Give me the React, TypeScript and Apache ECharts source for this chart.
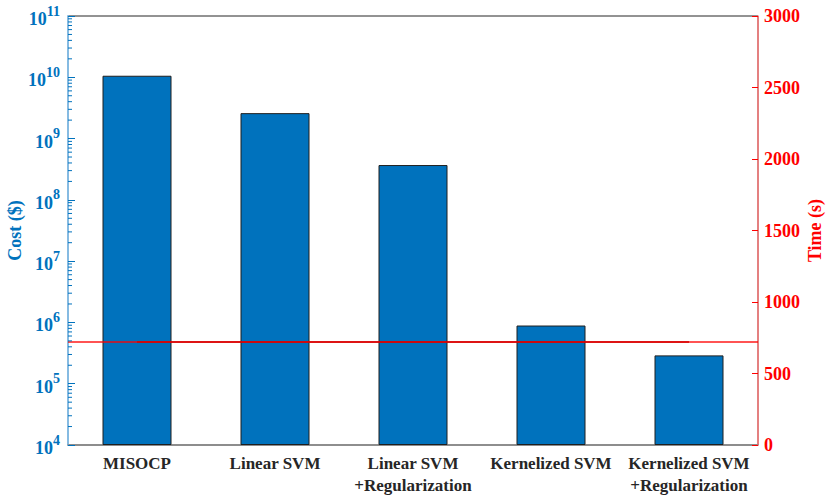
import React, { useEffect, useRef } from "react";
import * as echarts from "echarts";

const categories = [
  "MISOCP",
  "Linear SVM",
  "Linear SVM\n+Regularization",
  "Kernelized SVM",
  "Kernelized SVM\n+Regularization",
];
const costValues = [1.06e10, 2.6e9, 3.7e8, 8.9e5, 2.9e5];
const timeValues = [721, 721, 721, 721, 721];
const timeReference = 721;
const costTickExponents = [4, 5, 6, 7, 8, 9, 10, 11];
const timeTicks = [0, 500, 1000, 1500, 2000, 2500, 3000];

const FONT = "'Liberation Serif', 'Times New Roman', serif";
const BLUE = "#0072BD";
const RED = "#FF0000";

const W = 831;
const H = 497;
const GRID = { left: 68, right: 73, top: 16, bottom: 52 };

// minor tick values of the log axis (2..9 x 10^e)
const minorTickValues: number[] = [];
for (let i = 0; i < costTickExponents.length - 1; i++) {
  for (let k = 2; k <= 9; k++) {
    minorTickValues.push(k * Math.pow(10, costTickExponents[i]));
  }
}

export default function App() {
  const ref = useRef<HTMLDivElement>(null);
  useEffect(() => {
    if (!ref.current) return;
    const chart = echarts.init(ref.current, undefined, { renderer: "svg" });
    chart.setOption({
      animation: false,
      backgroundColor: "#ffffff",
      grid: {
        ...GRID,
        containLabel: false,
        outerBoundsMode: "none",
        show: true,
        borderColor: "#262626",
        borderWidth: 1,
        backgroundColor: "transparent",
      },
      xAxis: {
        type: "category",
        data: categories,
        axisLine: { lineStyle: { color: "#8c8c8c", width: 1.5 } },
        axisTick: {
          inside: true,
          alignWithLabel: true,
          length: 6,
          lineStyle: { color: "#262626", width: 1 },
        },
        axisLabel: {
          fontFamily: FONT,
          fontWeight: "bold",
          fontSize: 17,
          color: "#262626",
          margin: 7,
          lineHeight: 22,
          interval: 0,
        },
        splitLine: { show: false },
      },
      yAxis: [
        {
          type: "log",
          logBase: 10,
          min: Math.pow(10, costTickExponents[0]),
          max: Math.pow(10, costTickExponents[costTickExponents.length - 1]),
          splitNumber: costTickExponents.length - 1,
          startValue: Math.pow(10, costTickExponents[0]),
          position: "left",
          name: "Cost ($)",
          nameLocation: "middle",
          nameRotate: 90,
          nameGap: 44,
          nameMoveOverlap: false,
          nameTextStyle: {
            fontFamily: FONT,
            fontWeight: "bold",
            fontSize: 18,
            color: BLUE,
          },
          axisLine: { show: true, lineStyle: { color: "#86bbe2", width: 2 } },
          axisTick: {
            show: true,
            inside: true,
            length: 7,
            lineStyle: { color: BLUE, width: 1 },
          },
          axisLabel: {
            margin: 8,
            formatter: (v: number) => "{b|10}{s|" + Math.round(Math.log10(v)) + "}",
            rich: {
              b: {
                fontFamily: FONT,
                fontWeight: "bold",
                fontSize: 18,
                color: BLUE,
                lineHeight: 24,
                verticalAlign: "bottom",
              },
              s: {
                fontFamily: FONT,
                fontWeight: "bold",
                fontSize: 14,
                color: BLUE,
                lineHeight: 24,
                verticalAlign: "top",
                padding: [0, 0, 13, 0],
              },
            },
          },
          splitLine: { show: false },
        },
        {
          type: "value",
          min: timeTicks[0],
          max: timeTicks[timeTicks.length - 1],
          interval: timeTicks[1] - timeTicks[0],
          position: "right",
          name: "Time (s)",
          nameLocation: "middle",
          nameRotate: 90,
          nameGap: 48,
          nameMoveOverlap: false,
          nameTextStyle: {
            fontFamily: FONT,
            fontWeight: "bold",
            fontSize: 18,
            color: RED,
          },
          axisLine: { show: true, lineStyle: { color: "#ff7a7a", width: 1.5 } },
          axisTick: {
            show: true,
            inside: true,
            length: 6,
            lineStyle: { color: RED, width: 1 },
          },
          axisLabel: {
            margin: 6,
            fontFamily: FONT,
            fontWeight: "bold",
            fontSize: 18,
            color: RED,
            formatter: (v: number) => String(v),
          },
          splitLine: { show: false },
        },
      ],
      series: [
        {
          type: "bar",
          data: costValues,
          yAxisIndex: 0,
          barWidth: "50%",
          itemStyle: { color: BLUE, borderColor: "#1f1f1f", borderWidth: 1 },
          clip: true,
          z: 2,
        },
        {
          type: "line",
          data: timeValues,
          yAxisIndex: 1,
          symbol: "none",
          lineStyle: { color: "#d40000", width: 1.5 },
          z: 5,
        },
      ],
    });

    const x0 = GRID.left;
    const x1 = W - GRID.right;
    const graphics: any[] = [];
    minorTickValues.forEach((v) => {
      const y = chart.convertToPixel({ yAxisIndex: 0 }, v) as number;
      graphics.push({
        type: "line",
        silent: true,
        z: 10,
        shape: { x1: x0, y1: y, x2: x0 + 4, y2: y },
        style: { stroke: BLUE, lineWidth: 1 },
      });
    });
    const yRef = chart.convertToPixel({ yAxisIndex: 1 }, timeReference) as number;
    graphics.push({
      type: "line",
      silent: true,
      z: 4,
      shape: { x1: x0, y1: yRef, x2: x1, y2: yRef },
      style: { stroke: RED, lineWidth: 1.5, opacity: 0.9 },
    });
    chart.setOption({ graphic: graphics });

    return () => chart.dispose();
  }, []);
  return (
    <div
      ref={ref}
      style={{ position: "fixed", left: 0, top: 0, width: W, height: H }}
    />
  );
}
